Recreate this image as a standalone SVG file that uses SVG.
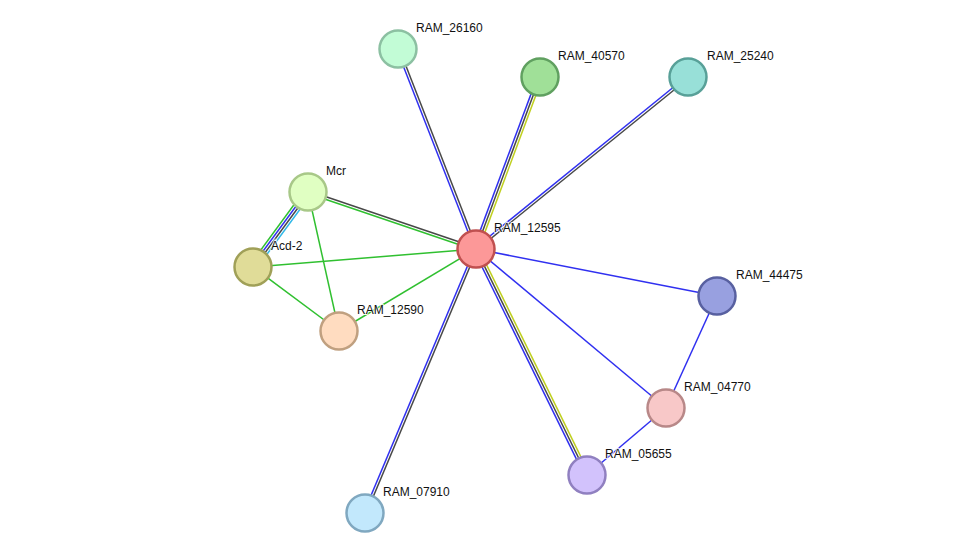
<svg xmlns="http://www.w3.org/2000/svg" width="975" height="559" viewBox="0 0 975 559">
<style>
.e line{stroke-width:1.5;fill:none}
.b{stroke:#3030f0}
.k{stroke:#484848}
.g{stroke:#30c030}
.y{stroke:#c0d020}
.c{stroke:#30b8e8}
.n circle{stroke-width:2.5}
.n text{font-family:"Liberation Sans",Arial,sans-serif;font-size:12px;fill:#111;stroke:#fff;stroke-width:2;paint-order:stroke;stroke-opacity:0.8}
</style>
<rect width="975" height="559" fill="#fff"/>
<g id="connectors" class="e">
<line class="b" x1="474.835" y1="249.454" x2="396.835" y2="49.454"/>
<line class="k" x1="477.165" y1="248.546" x2="399.165" y2="48.546"/>
<line class="b" x1="473.66" y1="248.13" x2="537.66" y2="76.13"/>
<line class="k" x1="476" y1="249" x2="540" y2="77"/>
<line class="y" x1="478.34" y1="249.87" x2="542.34" y2="77.87"/>
<line class="b" x1="475.21" y1="248.03" x2="687.21" y2="76.03"/>
<line class="k" x1="476.79" y1="249.97" x2="688.79" y2="77.97"/>
<line class="k" x1="476.40" y1="247.82" x2="308.40" y2="190.82"/>
<line class="g" x1="475.60" y1="250.18" x2="307.60" y2="193.18"/>
<line class="g" x1="476" y1="249" x2="253" y2="267"/>
<line class="g" x1="476" y1="249" x2="339" y2="331"/>
<line class="b" x1="476" y1="249" x2="717" y2="296"/>
<line class="b" x1="476" y1="249" x2="666" y2="408"/>
<line class="b" x1="473.755" y1="250.10" x2="584.755" y2="476.10"/>
<line class="k" x1="476" y1="249" x2="587" y2="475"/>
<line class="y" x1="478.245" y1="247.90" x2="589.245" y2="473.90"/>
<line class="b" x1="474.85" y1="248.515" x2="363.85" y2="512.515"/>
<line class="k" x1="477.15" y1="249.485" x2="366.15" y2="513.485"/>
<line class="g" x1="304.98" y1="189.78" x2="249.98" y2="264.78"/>
<line class="b" x1="306.99" y1="191.26" x2="251.99" y2="266.26"/>
<line class="k" x1="309.01" y1="192.74" x2="254.01" y2="267.74"/>
<line class="c" x1="311.02" y1="194.22" x2="256.02" y2="269.22"/>
<line class="g" x1="308" y1="192" x2="339" y2="331"/>
<line class="g" x1="253" y1="267" x2="339" y2="331"/>
<line class="b" x1="717" y1="296" x2="666" y2="408"/>
<line class="b" x1="666" y1="408" x2="587" y2="475"/>
</g>
<g id="RAM_26160" class="n"><circle cx="398" cy="49" r="18.5" fill="#c2fcd6" stroke="#8cc0a2"/><text x="416" y="32">RAM_26160</text></g>
<g id="RAM_40570" class="n"><circle cx="540" cy="77" r="18.5" fill="#a0e098" stroke="#60a060"/><text x="558" y="60">RAM_40570</text></g>
<g id="RAM_25240" class="n"><circle cx="688" cy="77" r="18.5" fill="#98e0d8" stroke="#58a098"/><text x="707" y="60">RAM_25240</text></g>
<g id="Mcr" class="n"><circle cx="308" cy="192" r="18.5" fill="#e0ffc2" stroke="#a8c888"/><text x="326" y="175">Mcr</text></g>
<g id="Acd-2" class="n"><circle cx="253" cy="267" r="18.5" fill="#e0dc98" stroke="#a0a058"/><text x="271" y="250">Acd-2</text></g>
<g id="RAM_12590" class="n"><circle cx="339" cy="331" r="18.5" fill="#ffdcc0" stroke="#c0a080"/><text x="357" y="314">RAM_12590</text></g>
<g id="RAM_12595" class="n"><circle cx="476" cy="249" r="18.5" fill="#fc9898" stroke="#c05050"/><text x="494" y="232">RAM_12595</text></g>
<g id="RAM_44475" class="n"><circle cx="717" cy="296" r="18.5" fill="#98a0e0" stroke="#5860a0"/><text x="736" y="279">RAM_44475</text></g>
<g id="RAM_04770" class="n"><circle cx="666" cy="408" r="18.5" fill="#f8c8c8" stroke="#b88888"/><text x="684" y="391">RAM_04770</text></g>
<g id="RAM_05655" class="n"><circle cx="587" cy="475" r="18.5" fill="#d2c2fc" stroke="#9080c0"/><text x="605" y="458">RAM_05655</text></g>
<g id="RAM_07910" class="n"><circle cx="365" cy="513" r="18.5" fill="#c2e8fc" stroke="#80a8c0"/><text x="383" y="496">RAM_07910</text></g>
</svg>
